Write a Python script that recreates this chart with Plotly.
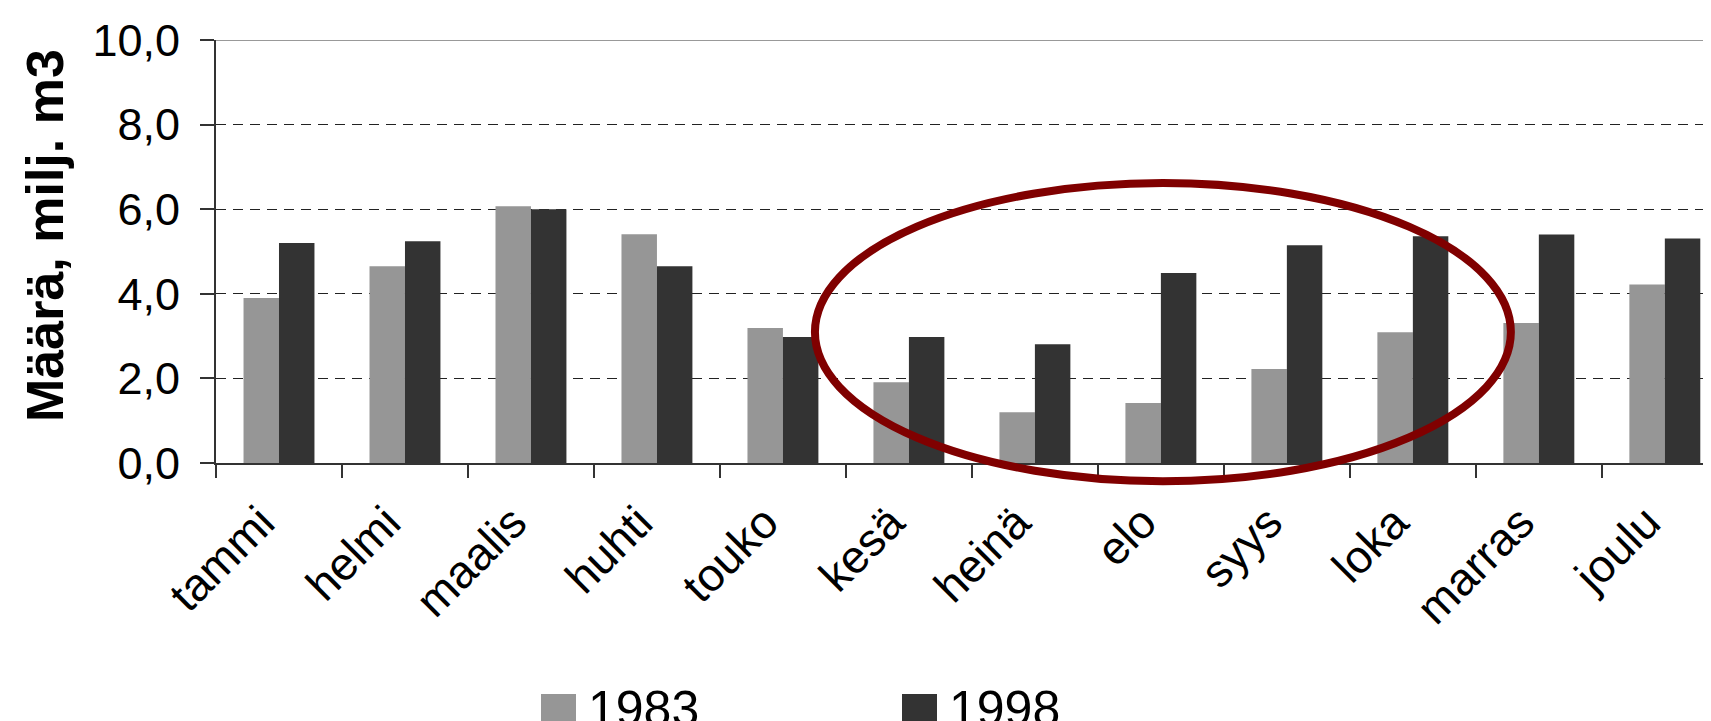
import plotly.graph_objects as go

# ---- data ----
months = ["tammi", "helmi", "maalis", "huhti", "touko", "kesä",
          "heinä", "elo", "syys", "loka", "marras", "joulu"]
values_1983 = [3.90, 4.65, 6.07, 5.41, 3.19, 1.91, 1.20, 1.42, 2.22, 3.09, 3.31, 4.22]
values_1998 = [5.20, 5.24, 6.00, 4.65, 2.98, 2.98, 2.81, 4.49, 5.15, 5.36, 5.40, 5.31]
series_names = ["1983", "1998"]
y_tick_values = [0, 2, 4, 6, 8, 10]
y_tick_labels = ["0,0", "2,0", "4,0", "6,0", "8,0", "10,0"]
y_title = "Määrä, milj. m3"

# highlight ellipse in data units (category index, value)
ellipse_x = [4.254, 9.778]
ellipse_y = [-0.43, 6.62]

# ---- style / layout ----
W, H = 1711, 721
ML, MR, MT, MB = 208, 0, 32, 266
colors = ["#969696", "#333333"]
FONT = "Liberation Sans, Arial, sans-serif"
# the right end of the last category is cropped off in the original picture
x_range = [-0.5, len(months) - 0.5 - 0.07]
y_range = [0, 10]

plot_w = W - ML - MR
plot_h = H - MT - MB


def px_x(px):
    return (px - ML) / plot_w


def px_y(py):
    return (H - MB - py) / plot_h


def data_x(v):
    return (v - x_range[0]) / (x_range[1] - x_range[0])


def data_y(v):
    return (v - y_range[0]) / (y_range[1] - y_range[0])


fig = go.Figure()
for name, vals, col in zip(series_names, [values_1983, values_1998], colors):
    fig.add_bar(x=months, y=vals, name=name, marker_color=col,
                marker_line_width=0)

fig.update_layout(
    width=W, height=H,
    margin=dict(l=ML, r=MR, t=MT, b=MB, pad=0),
    paper_bgcolor="white", plot_bgcolor="white",
    barmode="group", bargap=0.437, bargroupgap=0,
    showlegend=False,
    font=dict(family=FONT, color="black"),
)

fig.update_xaxes(
    type="category", range=x_range, automargin=False,
    tickson="boundaries", ticks="outside", ticklen=13, tickwidth=1.5,
    tickcolor="#333333",
    showline=True, linecolor="#333333", linewidth=2,
    showgrid=False, tickangle=-45,
    ticklabelstandoff=12, ticklabelshift=-18,
    tickfont=dict(size=46, family=FONT, color="black"),
)

fig.update_yaxes(
    range=y_range, tickvals=y_tick_values, ticktext=y_tick_labels,
    automargin=False,
    ticks="outside", ticklen=14, tickwidth=1.5, tickcolor="#333333",
    showline=True, linecolor="#333333", linewidth=2,
    showgrid=True, gridcolor="#222222", gridwidth=1, griddash="10px,7px",
    zeroline=False,
    ticklabelstandoff=11,
    tickfont=dict(size=45, family=FONT, color="black"),
)

# y-axis title
fig.add_annotation(text="<b>" + y_title + "</b>", xref="paper", yref="paper",
                   x=px_x(37), y=px_y(228), textangle=-90,
                   xanchor="center", yanchor="middle", showarrow=False,
                   font=dict(size=52, family=FONT, color="black"))

# top border line at max value
fig.add_shape(type="line", xref="paper", yref="y", x0=0, x1=1,
              y0=y_range[1], y1=y_range[1],
              line=dict(color="#999999", width=2))

# highlight ellipse
fig.add_shape(type="circle", xref="paper", yref="paper",
              x0=data_x(ellipse_x[0]), x1=data_x(ellipse_x[1]),
              y0=data_y(ellipse_y[0]), y1=data_y(ellipse_y[1]),
              line=dict(color="#800000", width=8), layer="above")

# custom legend
legend_sq_left = [533, 894]
for name, col, sx in zip(series_names, colors, legend_sq_left):
    fig.add_shape(type="rect", xref="paper", yref="paper",
                  x0=px_x(sx), x1=px_x(sx + 35),
                  y0=px_y(722), y1=px_y(686),
                  fillcolor=col, line=dict(width=0))
    fig.add_annotation(text=name, xref="paper", yref="paper",
                       x=px_x(sx + 46), y=px_y(701),
                       xanchor="left", yanchor="middle", showarrow=False,
                       borderpad=0,
                       font=dict(size=50, family=FONT, color="black"))

fig.write_html("out.html")
